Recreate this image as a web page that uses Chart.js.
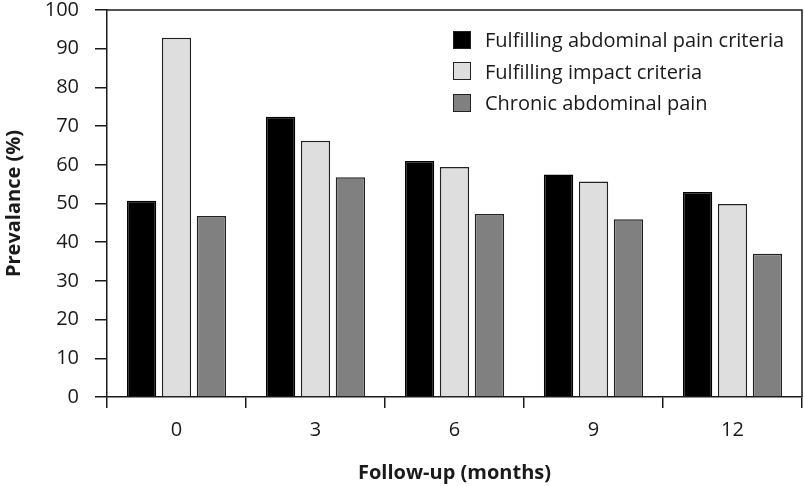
<!DOCTYPE html>
<html>
<head>
<meta charset="utf-8">
<script src="https://cdn.jsdelivr.net/npm/chart.js@4.4.1/dist/chart.umd.min.js"></script>
<style>
  html, body { margin: 0; padding: 0; background: #fff; }
  #wrap { position: relative; width: 804px; height: 486px; }
  #legend { position: absolute; left: 453px; top: 24px; font-family: "Open Sans", sans-serif; font-size: 20px; color: #1a1a1a; }
  #legend div { display: flex; align-items: center; height: 31.5px; white-space: nowrap; }
  #legend span.sw { display: inline-block; width: 16px; height: 16px; border: 1px solid #222; margin-right: 14px; }
</style>
</head>
<body>
<div id="wrap">
  <canvas id="myChart" width="804" height="486"></canvas>
  <div id="legend"></div>
</div>
<script>
const months = ["0", "3", "6", "9", "12"];
const seriesNames = ["Fulfilling abdominal pain criteria", "Fulfilling impact criteria", "Chronic abdominal pain"];
const abdominalPain = [50.7, 72.4, 61.0, 57.5, 53.0];
const impactCriteria = [92.8, 66.2, 59.4, 55.7, 49.9];
const chronicPain = [46.8, 56.8, 47.3, 45.9, 37.0];
const yTicks = [0, 10, 20, 30, 40, 50, 60, 70, 80, 90, 100];

const fills = ["#000000", "#dedede", "#808080"];
const ink = "#1a1a1a";

// top and right frame lines of the plot box
const frame = {
    id: 'frame',
    afterDraw: chart => {
        const { ctx, chartArea: a } = chart;
        ctx.save();
        ctx.strokeStyle = ink;
        ctx.lineWidth = 1.5;
        ctx.beginPath();
        ctx.moveTo(a.left, a.top);
        ctx.lineTo(a.right, a.top);
        ctx.lineTo(a.right, a.bottom);
        ctx.stroke();
        ctx.restore();
    }
};

const ctx = document.getElementById('myChart').getContext('2d');
const chart = new Chart(ctx, {
    type: 'bar',
    data: {
        labels: months,
        datasets: [abdominalPain, impactCriteria, chronicPain].map((values, i) => ({
            label: seriesNames[i],
            data: values,
            backgroundColor: fills[i],
            borderColor: i === 0 ? "#000" : "#222",
            borderWidth: 1.5,
            categoryPercentage: 0.754,
            barPercentage: 0.84
        }))
    },
    options: {
        responsive: false,
        animation: false,
        layout: { padding: { top: 0, right: 2, bottom: 0, left: 0 } },
        plugins: {
            legend: { display: false },
            tooltip: { enabled: false }
        },
        scales: {
            x: {
                offset: true,
                afterFit: axis => { axis.height = 89; },
                grid: { offset: true, drawOnChartArea: false, tickLength: 11, color: ink, lineWidth: 1.5 },
                border: { color: ink, width: 1.5 },
                ticks: { color: ink, padding: 10, font: { family: "Open Sans", size: 20 } },
                title: { display: true, text: "Follow-up (months)", color: ink, padding: { top: 0, bottom: 1 }, font: { family: "Open Sans", size: 20, weight: 'bold' } }
            },
            y: {
                min: 0,
                max: 100,
                afterBuildTicks: axis => { axis.ticks = yTicks.map(v => ({ value: v })); },
                afterFit: axis => { axis.width = 107; axis.paddingTop = 10; axis.paddingBottom = 0; },
                grid: { drawOnChartArea: false, tickLength: 12, color: ink, lineWidth: 1.5 },
                border: { color: ink, width: 1.5 },
                ticks: { color: ink, padding: 16, font: { family: "Open Sans", size: 20 } },
                title: { display: true, text: "Prevalance (%)", color: ink, padding: { top: 2, bottom: 0 }, font: { family: "Open Sans", size: 20, weight: 'bold' } }
            }
        }
    },
    plugins: [frame]
});

const legendBox = document.getElementById('legend');
chart.data.datasets.forEach(ds => {
    const row = document.createElement('div');
    const sw = document.createElement('span');
    sw.className = 'sw';
    sw.style.background = ds.backgroundColor;
    row.appendChild(sw);
    row.appendChild(document.createTextNode(ds.label));
    legendBox.appendChild(row);
});
</script>
</body>
</html>
